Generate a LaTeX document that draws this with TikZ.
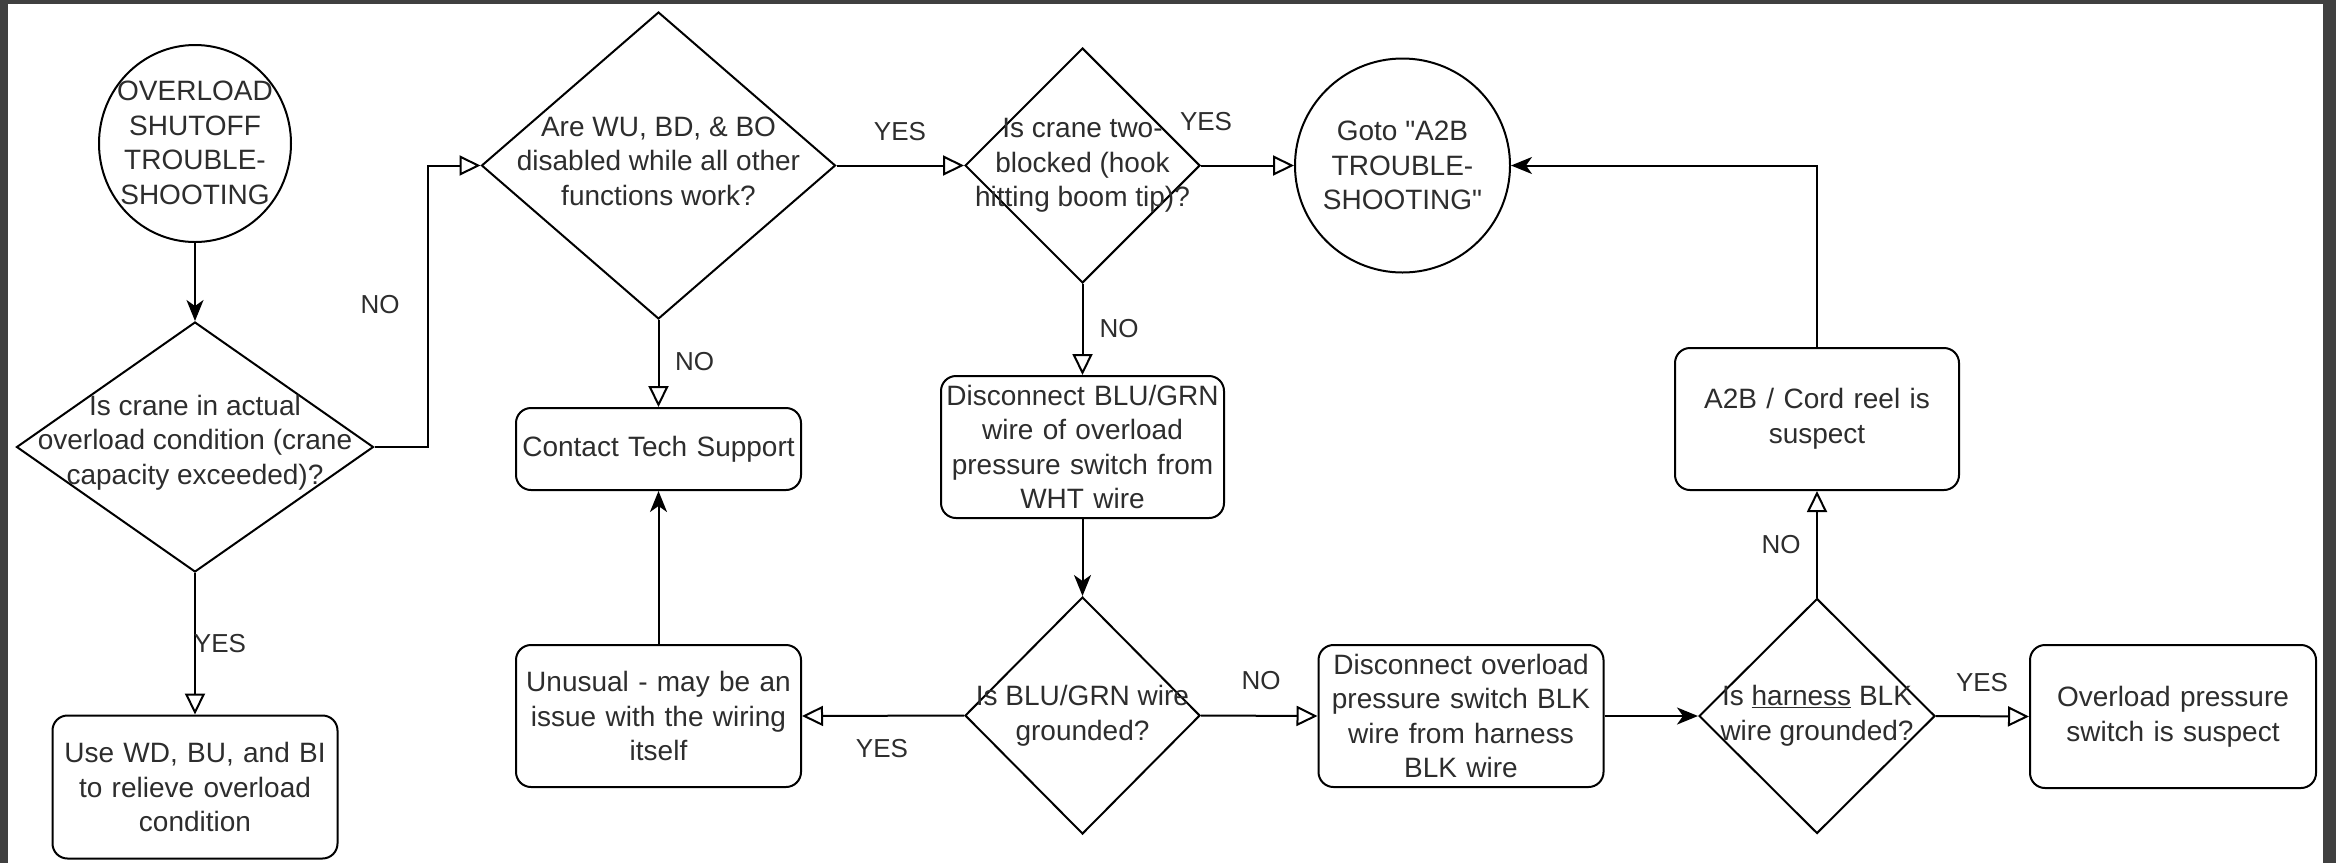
\documentclass[tikz,border=0pt]{standalone}
\usepackage{fontspec}
\setmainfont{Liberation Sans}[Ligatures=TeXOff]
\usetikzlibrary{shapes.geometric,arrows.meta}
\definecolor{bandc}{RGB}{64,64,64}
\definecolor{txtc}{RGB}{45,45,45}
\newcommand\txtfont{\fontsize{28}{34.5}\selectfont}
\newcommand\labfont{\fontsize{26}{30}\selectfont}
\tikzset{
  ln/.style={line width=2pt, draw=black},
  box/.style 2 args={draw=black, line width=2pt, rounded corners=15pt, inner sep=0pt,
    text width=#1, minimum height=#2, align=center, font=\txtfont, text=txtc},
  dia/.style 2 args={diamond, draw=black, line width=2pt, inner sep=0pt,
    minimum width=#1, minimum height=#2},
  ell/.style 2 args={ellipse, draw=black, line width=2pt, inner sep=0pt,
    minimum width=#1, minimum height=#2},
  txt/.style={align=center, font=\txtfont, text=txtc, inner sep=0pt},
  lab/.style={font=\labfont, text=txtc, inner sep=0pt},
  op/.style={ln, -{Triangle[open,length=21pt,width=20pt]}},
  fl/.style={ln, -{Stealth[length=21pt,width=17pt,inset=6pt]}}
}
\begin{document}
\begin{tikzpicture}[x=1pt,y=-1pt]
\useasboundingbox (0,0) rectangle (2336,863);
\fill[bandc] (0,0) rectangle (2336,863);
\fill[white] (8,4) rectangle (2323,863);

% nodes
\node[ell={192}{197}] (start) at (195,143.5) {};
\node[txt] (startt) at (195,143) {OVERLOAD\\SHUTOFF\\TROUBLE-\\SHOOTING};
\node[dia={357}{250}] (d1) at (195,447) {};
\node[txt] (d1t) at (195,442.5) {Is crane in actual\\overload condition (crane\\capacity exceeded)?};
\node[box={285pt}{143pt}] (use) at (195,787) {Use WD, BU, and BI\\to relieve overload\\condition};
\node[dia={354}{307}] (d2) at (658.5,165.5) {};
\node[txt] (d2t) at (658.5,161) {Are WU, BD, \& BO\\disabled while all other\\functions work?};
\node[box={285pt}{82pt}] (contact) at (658.5,449) {Contact Tech Support};
\node[box={285pt}{142pt}] (unusual) at (658.5,716) {Unusual - may be an\\issue with the wiring\\itself};
\node[dia={235}{235}] (d3) at (1082.5,165.5) {};
\node[txt] (d3t) at (1082.5,165.5) {Is crane two-\\blocked (hook\\hitting boom tip)?};
\node[ell={215}{214}] (goto) at (1402.5,165.5) {};
\node[txt] (gotot) at (1402.5,165.5) {Goto "A2B\\TROUBLE-\\SHOOTING"};
\node[box={283pt}{142pt}] (disc1) at (1082.5,447) {Disconnect BLU/GRN\\wire of overload\\pressure switch from\\WHT wire};
\node[dia={235}{237}] (d4) at (1082.5,715.5) {};
\node[txt] (d4t) at (1082.5,715.5) {Is BLU/GRN wire\\grounded?};
\node[box={285pt}{142pt}] (disc2) at (1461,716) {Disconnect overload\\pressure switch BLK\\wire from harness\\BLK wire};
\node[box={284pt}{142pt}] (a2b) at (1817,419) {A2B / Cord reel is\\suspect};
\node[dia={236}{235}] (d5) at (1817,716) {};
\node[txt] (d5t) at (1817,715.5) {Is \underline{harness} BLK\\wire grounded?};
\node[box={286pt}{143pt}] (over) at (2173,716.5) {Overload pressure\\switch is suspect};

% connectors
\draw[fl] (start.south) -- (d1.north);
\draw[op] (d1.east) -- ++(53.5,0) |- (d2.west);
\draw[op] (d1.south) -- (use.north);
\draw[op] (d2.south) -- (contact.north);
\draw[op] (d2.east) -- (d3.west);
\draw[op] (d3.east) -- (goto.west);
\draw[op] (d3.south) -- (disc1.north);
\draw[fl] (disc1.south) -- (d4.north);
\draw[op] (d4.west) -- (unusual.east);
\draw[fl] (unusual.north) -- (contact.south);
\draw[op] (d4.east) -- (disc2.west);
\draw[fl] (disc2.east) -- (d5.west);
\draw[op] (d5.east) -- (over.west);
\draw[op] (d5.north) -- (a2b.south);
\draw[fl] (a2b.north) |- (goto.east);

% labels
\node[lab] (l1) at (380,305) {NO};
\node[lab] (l2) at (694.5,362) {NO};
\node[lab] (l3) at (220,644) {YES};
\node[lab] (l4) at (900,132) {YES};
\node[lab] (l5) at (1206,122) {YES};
\node[lab] (l6) at (1119,328.5) {NO};
\node[lab] (l7) at (882,748.5) {YES};
\node[lab] (l8) at (1261,681) {NO};
\node[lab] (l9) at (1781,545) {NO};
\node[lab] (l10) at (1982,682.5) {YES};
\end{tikzpicture}
\end{document}
